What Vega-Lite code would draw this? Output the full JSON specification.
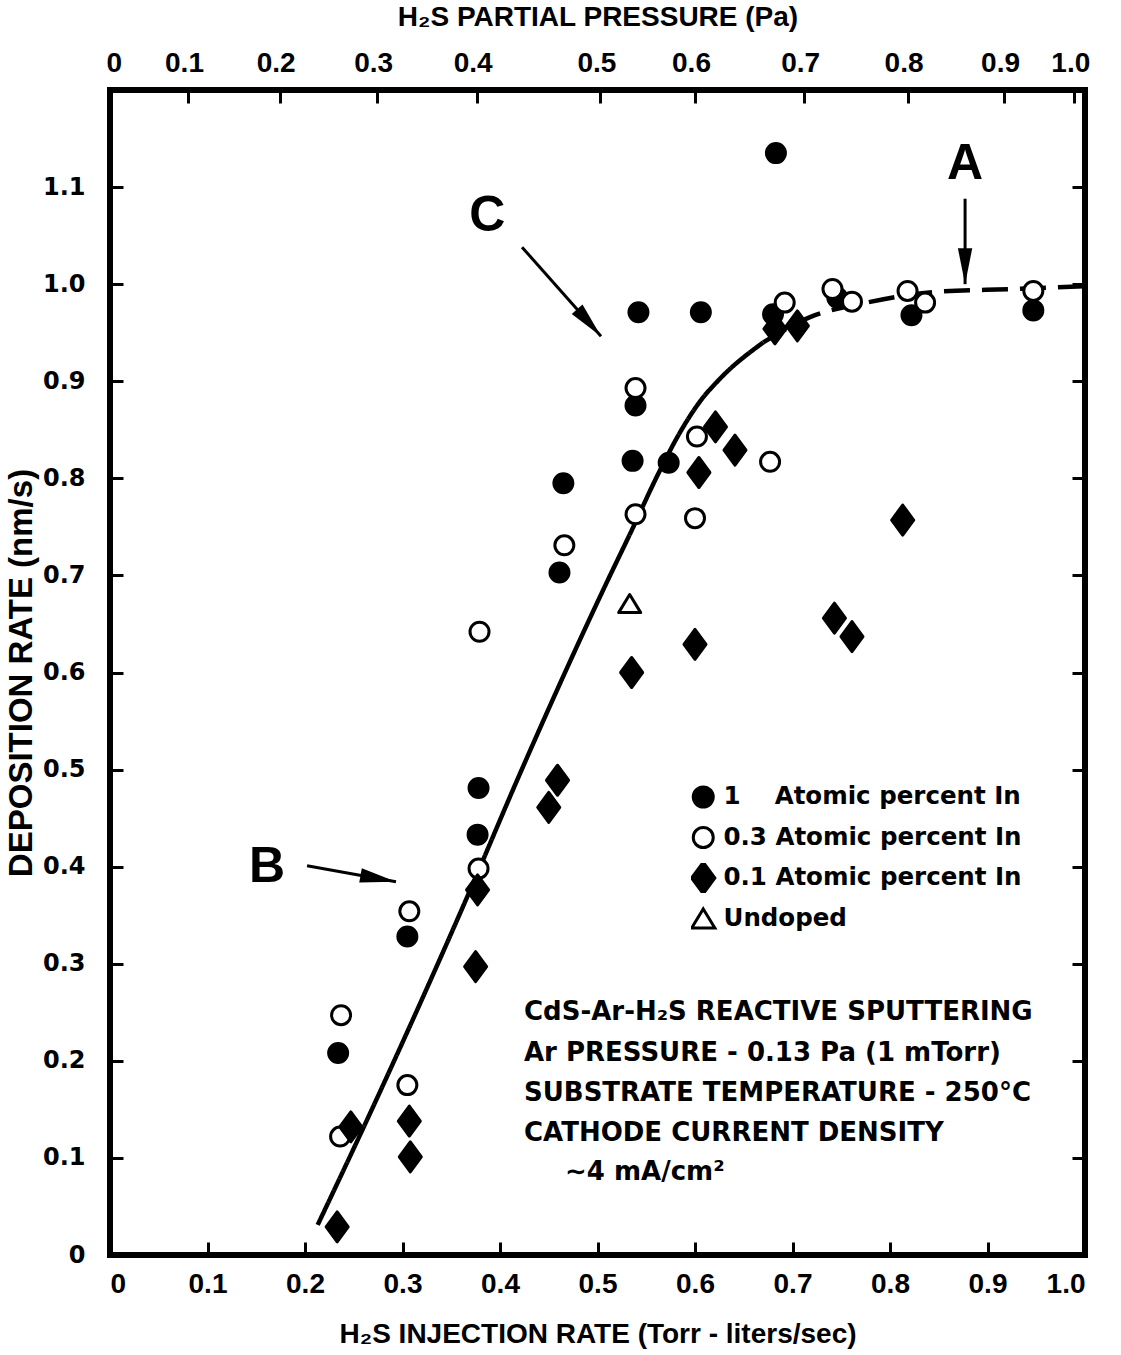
{
  "$schema": "https://vega.github.io/schema/vega-lite/v6.json",
  "width": 975,
  "height": 1165,
  "autosize": {"type": "none"},
  "padding": {"left": 110, "top": 90, "right": 36, "bottom": 100},
  "background": "white",
  "config": {
    "view": {"stroke": "black", "strokeWidth": 6},
    "axis": {
      "domain": false, "grid": false,
      "tickColor": "black", "tickWidth": 3, "tickSize": -13,
      "labelColor": "black", "titleColor": "black",
      "labelFont": "Liberation Sans", "titleFont": "Liberation Sans",
      "labelFontWeight": "bold", "titleFontWeight": "bold"
    },
    "legend": {
      "title": null, "orient": "none", "legendX": 581, "legendY": 692, "padding": 0,
      "labelFont": "DejaVu Sans", "labelFontSize": 24.5, "labelFontWeight": "bold", "labelColor": "black", "labelLimit": 500,
      "symbolSize": 400, "symbolStrokeWidth": 3, "symbolStrokeColor": "black",
      "rowPadding": 10.5, "clipHeight": 30, "labelOffset": 8
    }
  },
  "datasets": {
    "pts": [
      {"series": "1\u00a0\u00a0\u00a0\u00a0Atomic percent In", "x": 0.234, "y": 0.208},
      {"series": "1\u00a0\u00a0\u00a0\u00a0Atomic percent In", "x": 0.305, "y": 0.328},
      {"series": "1\u00a0\u00a0\u00a0\u00a0Atomic percent In", "x": 0.377, "y": 0.433},
      {"series": "1\u00a0\u00a0\u00a0\u00a0Atomic percent In", "x": 0.378, "y": 0.481},
      {"series": "1\u00a0\u00a0\u00a0\u00a0Atomic percent In", "x": 0.461, "y": 0.703},
      {"series": "1\u00a0\u00a0\u00a0\u00a0Atomic percent In", "x": 0.465, "y": 0.795},
      {"series": "1\u00a0\u00a0\u00a0\u00a0Atomic percent In", "x": 0.536, "y": 0.818},
      {"series": "1\u00a0\u00a0\u00a0\u00a0Atomic percent In", "x": 0.539, "y": 0.875},
      {"series": "1\u00a0\u00a0\u00a0\u00a0Atomic percent In", "x": 0.542, "y": 0.971},
      {"series": "1\u00a0\u00a0\u00a0\u00a0Atomic percent In", "x": 0.573, "y": 0.816},
      {"series": "1\u00a0\u00a0\u00a0\u00a0Atomic percent In", "x": 0.606, "y": 0.971},
      {"series": "1\u00a0\u00a0\u00a0\u00a0Atomic percent In", "x": 0.683, "y": 1.135},
      {"series": "1\u00a0\u00a0\u00a0\u00a0Atomic percent In", "x": 0.680, "y": 0.969},
      {"series": "1\u00a0\u00a0\u00a0\u00a0Atomic percent In", "x": 0.746, "y": 0.986},
      {"series": "1\u00a0\u00a0\u00a0\u00a0Atomic percent In", "x": 0.822, "y": 0.968},
      {"series": "1\u00a0\u00a0\u00a0\u00a0Atomic percent In", "x": 0.947, "y": 0.973},
      {"series": "0.3 Atomic percent In", "x": 0.236, "y": 0.122},
      {"series": "0.3 Atomic percent In", "x": 0.237, "y": 0.247},
      {"series": "0.3 Atomic percent In", "x": 0.307, "y": 0.354},
      {"series": "0.3 Atomic percent In", "x": 0.305, "y": 0.175},
      {"series": "0.3 Atomic percent In", "x": 0.378, "y": 0.398},
      {"series": "0.3 Atomic percent In", "x": 0.379, "y": 0.642},
      {"series": "0.3 Atomic percent In", "x": 0.466, "y": 0.731},
      {"series": "0.3 Atomic percent In", "x": 0.539, "y": 0.763},
      {"series": "0.3 Atomic percent In", "x": 0.539, "y": 0.893},
      {"series": "0.3 Atomic percent In", "x": 0.602, "y": 0.843},
      {"series": "0.3 Atomic percent In", "x": 0.600, "y": 0.759},
      {"series": "0.3 Atomic percent In", "x": 0.677, "y": 0.817},
      {"series": "0.3 Atomic percent In", "x": 0.692, "y": 0.981},
      {"series": "0.3 Atomic percent In", "x": 0.741, "y": 0.995},
      {"series": "0.3 Atomic percent In", "x": 0.761, "y": 0.982},
      {"series": "0.3 Atomic percent In", "x": 0.818, "y": 0.993},
      {"series": "0.3 Atomic percent In", "x": 0.836, "y": 0.981},
      {"series": "0.3 Atomic percent In", "x": 0.947, "y": 0.993},
      {"series": "0.1 Atomic percent In", "x": 0.233, "y": 0.029},
      {"series": "0.1 Atomic percent In", "x": 0.247, "y": 0.132},
      {"series": "0.1 Atomic percent In", "x": 0.307, "y": 0.138},
      {"series": "0.1 Atomic percent In", "x": 0.308, "y": 0.101},
      {"series": "0.1 Atomic percent In", "x": 0.375, "y": 0.297},
      {"series": "0.1 Atomic percent In", "x": 0.377, "y": 0.376},
      {"series": "0.1 Atomic percent In", "x": 0.450, "y": 0.461},
      {"series": "0.1 Atomic percent In", "x": 0.459, "y": 0.489},
      {"series": "0.1 Atomic percent In", "x": 0.535, "y": 0.600},
      {"series": "0.1 Atomic percent In", "x": 0.600, "y": 0.629},
      {"series": "0.1 Atomic percent In", "x": 0.604, "y": 0.806},
      {"series": "0.1 Atomic percent In", "x": 0.621, "y": 0.853},
      {"series": "0.1 Atomic percent In", "x": 0.641, "y": 0.829},
      {"series": "0.1 Atomic percent In", "x": 0.682, "y": 0.954},
      {"series": "0.1 Atomic percent In", "x": 0.705, "y": 0.957},
      {"series": "0.1 Atomic percent In", "x": 0.743, "y": 0.656},
      {"series": "0.1 Atomic percent In", "x": 0.761, "y": 0.637},
      {"series": "0.1 Atomic percent In", "x": 0.813, "y": 0.757},
      {"series": "Undoped", "x": 0.533, "y": 0.671}
    ],
    "curve": [
      {"part": "solid", "x": 0.213, "y": 0.031},
      {"part": "solid", "x": 0.264, "y": 0.140},
      {"part": "solid", "x": 0.366, "y": 0.368},
      {"part": "solid", "x": 0.421, "y": 0.497},
      {"part": "solid", "x": 0.511, "y": 0.696},
      {"part": "solid", "x": 0.533, "y": 0.742},
      {"part": "solid", "x": 0.562, "y": 0.804},
      {"part": "solid", "x": 0.585, "y": 0.848},
      {"part": "solid", "x": 0.605, "y": 0.879},
      {"part": "solid", "x": 0.626, "y": 0.903},
      {"part": "solid", "x": 0.670, "y": 0.940},
      {"part": "dashed", "x": 0.670, "y": 0.940},
      {"part": "dashed", "x": 0.718, "y": 0.966},
      {"part": "dashed", "x": 0.776, "y": 0.981},
      {"part": "dashed", "x": 0.846, "y": 0.992},
      {"part": "dashed", "x": 0.926, "y": 0.995},
      {"part": "dashed", "x": 1.0, "y": 0.998}
    ],
    "arrows": [
      {"name": "A", "x": 0.877, "y": 1.088, "x2": 0.877, "y2": 1.0, "angle": 0},
      {"name": "C", "x": 0.4226, "y": 1.0381, "x2": 0.5036, "y2": 0.9464, "angle": 318.4},
      {"name": "B", "x": 0.2021, "y": 0.401, "x2": 0.2933, "y2": 0.3845, "angle": 280.2}
    ],
    "letters": [
      {"t": "A", "x": 0.877, "y": 1.124},
      {"t": "C", "x": 0.387, "y": 1.070},
      {"t": "B", "x": 0.161, "y": 0.400}
    ],
    "notes": [
      {"t": "CdS-Ar-H₂S REACTIVE SPUTTERING", "x": 0.4246, "y": 0.2505},
      {"t": "Ar PRESSURE - 0.13 Pa (1 mTorr)", "x": 0.4246, "y": 0.2082},
      {"t": "SUBSTRATE TEMPERATURE - 250°C", "x": 0.4246, "y": 0.167},
      {"t": "CATHODE CURRENT DENSITY", "x": 0.4246, "y": 0.1258},
      {"t": "∼4 mA/cm²", "x": 0.4667, "y": 0.0856}
    ]
  },
  "layer": [
    {
      "data": {"name": "curve"},
      "mark": {"type": "line", "color": "black", "strokeWidth": 4.5, "strokeCap": "butt", "interpolate": "monotone"},
      "encoding": {
        "x": {"field": "x", "type": "quantitative", "scale": {"domain": [0, 1], "nice": false, "zero": false},
          "axis": {"orient": "top",
            "values": [0, 0.08, 0.174, 0.274, 0.376, 0.503, 0.6, 0.712, 0.818, 0.917, 0.989],
            "labelExpr": "['0','0.1','0.2','0.3','0.4','0.5','0.6','0.7','0.8','0.9','1.0'][indexof([0, 0.08, 0.174, 0.274, 0.376, 0.503, 0.6, 0.712, 0.818, 0.917, 0.989], datum.value)]",
            "labelFontSize": 28, "labelPadding": 26, "labelOffset": -4,
            "title": "H₂S PARTIAL PRESSURE (Pa)", "titleFontSize": 28, "titlePadding": 18}},
        "y": {"field": "y", "type": "quantitative", "scale": {"domain": [0, 1.2], "nice": false},
          "axis": {"orient": "right", "values": [0.1, 0.2, 0.3, 0.4, 0.5, 0.6, 0.7, 0.8, 0.9, 1.0, 1.1], "labels": false, "title": null}},
        "strokeDash": {"field": "part", "type": "nominal", "scale": {"domain": ["solid", "dashed"], "range": [[1, 0], [26, 12]]}, "legend": null}
      }
    },
    {
      "data": {"name": "pts"},
      "mark": {"type": "point", "filled": true, "strokeWidth": 3, "size": 361, "opacity": 1, "strokeJoin": "round"},
      "encoding": {
        "x": {"field": "x", "type": "quantitative", "scale": {"domain": [0, 1], "nice": false, "zero": false},
          "axis": {"orient": "bottom",
            "values": [0, 0.1, 0.2, 0.3, 0.4, 0.5, 0.6, 0.7, 0.8, 0.9, 1.0],
            "labelExpr": "datum.value == 0 ? '0' : format(datum.value, '.1f')",
            "labelFontSize": 28, "labelPadding": 28, "labelFlush": true,
            "title": "H₂S INJECTION RATE (Torr - liters/sec)", "titleFontSize": 28, "titlePadding": 22}},
        "y": {"field": "y", "type": "quantitative", "scale": {"domain": [0, 1.2], "nice": false},
          "axis": {"orient": "left",
            "values": [0, 0.1, 0.2, 0.3, 0.4, 0.5, 0.6, 0.7, 0.8, 0.9, 1.0, 1.1],
            "labelExpr": "datum.value == 0 ? '0' : format(datum.value, '.1f')",
            "labelFont": "DejaVu Sans", "labelFontSize": 24, "labelPadding": 38,
            "title": "DEPOSITION RATE (nm/s)", "titleFontSize": 33, "titlePadding": 4}},
        "shape": {"field": "series", "type": "nominal",
          "scale": {"domain": ["1\u00a0\u00a0\u00a0\u00a0Atomic percent In", "0.3 Atomic percent In", "0.1 Atomic percent In", "Undoped"],
            "range": ["circle", "circle", "M0,-1.58L1.16,0L0,1.58L-1.16,0Z", "M0,-0.95L1.16,0.95L-1.16,0.95Z"]}},
        "fill": {"field": "series", "type": "nominal",
          "scale": {"domain": ["1\u00a0\u00a0\u00a0\u00a0Atomic percent In", "0.3 Atomic percent In", "0.1 Atomic percent In", "Undoped"],
            "range": ["black", "white", "black", "white"]}},
        "stroke": {"field": "series", "type": "nominal",
          "scale": {"domain": ["1\u00a0\u00a0\u00a0\u00a0Atomic percent In", "0.3 Atomic percent In", "0.1 Atomic percent In", "Undoped"],
            "range": ["black", "black", "black", "black"]}}
      }
    },
    {
      "data": {"name": "arrows"},
      "mark": {"type": "rule", "color": "black", "strokeWidth": 3},
      "encoding": {
        "x": {"field": "x", "type": "quantitative", "scale": {"domain": [0, 1], "nice": false, "zero": false}, "axis": null},
        "y": {"field": "y", "type": "quantitative", "scale": {"domain": [0, 1.2], "nice": false}, "axis": null},
        "x2": {"field": "x2"},
        "y2": {"field": "y2"}
      }
    },
    {
      "data": {"name": "arrows"},
      "mark": {"type": "point", "filled": true, "color": "black", "opacity": 1, "size": 1296, "shape": "M0,0L-0.4,-2L0.4,-2Z"},
      "encoding": {
        "x": {"field": "x2", "type": "quantitative", "scale": {"domain": [0, 1], "nice": false, "zero": false}, "axis": null},
        "y": {"field": "y2", "type": "quantitative", "scale": {"domain": [0, 1.2], "nice": false}, "axis": null},
        "angle": {"field": "angle", "type": "quantitative", "scale": null}
      }
    },
    {
      "data": {"name": "letters"},
      "mark": {"type": "text", "font": "Liberation Sans", "fontWeight": "bold", "fontSize": 50, "color": "black", "align": "center", "baseline": "middle"},
      "encoding": {
        "x": {"field": "x", "type": "quantitative", "scale": {"domain": [0, 1], "nice": false, "zero": false}, "axis": null},
        "y": {"field": "y", "type": "quantitative", "scale": {"domain": [0, 1.2], "nice": false}, "axis": null},
        "text": {"field": "t"}
      }
    },
    {
      "data": {"name": "notes"},
      "mark": {"type": "text", "font": "DejaVu Sans", "fontWeight": "bold", "fontSize": 26, "color": "black", "align": "left", "baseline": "middle"},
      "encoding": {
        "x": {"field": "x", "type": "quantitative", "scale": {"domain": [0, 1], "nice": false, "zero": false}, "axis": null},
        "y": {"field": "y", "type": "quantitative", "scale": {"domain": [0, 1.2], "nice": false}, "axis": null},
        "text": {"field": "t"}
      }
    }
  ],
  "resolve": {"axis": {"x": "independent", "y": "independent"}}
}
